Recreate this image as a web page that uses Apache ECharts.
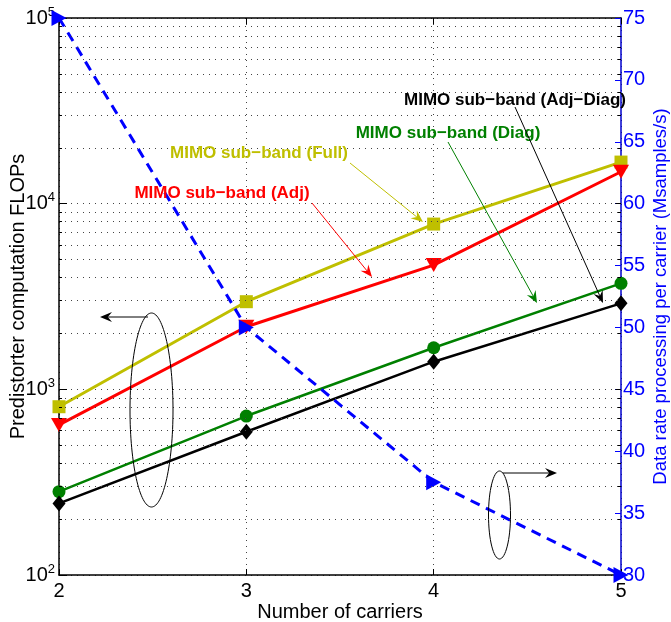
<!DOCTYPE html>
<html>
<head>
<meta charset="utf-8">
<script src="https://cdn.jsdelivr.net/npm/echarts@6/dist/echarts.min.js"></script>
<style>
  html, body { margin: 0; padding: 0; background: #fff; }
  #chart { width: 671px; height: 622px; }
</style>
</head>
<body>
<div id="chart"></div>
<script>
// data
const carriers = [2, 3, 4, 5];
const flopsFull = [806, 2965, 7765, 16750];
const flopsAdj = [643, 2173, 4670, 14860];
const flopsDiag = [281, 718, 1675, 3724];
const flopsAdjDiag = [243, 591, 1409, 2904];
const dataRate = [75, 50, 37.5, 30];

const FONT = 'Liberation Sans';
const chart = echarts.init(document.getElementById('chart'));

// minor log grid values 2..9 per decade
const minorGrid = [];
for (let d = 100; d < 100000; d *= 10) {
  for (let k = 2; k <= 9; k++) minorGrid.push(d * k);
}
// mirrored log ticks on the right edge + minor ticks on the left edge
const tickMarks = [];
minorGrid.forEach(v => {
  tickMarks.push([{ coord: [2, v] }, { coord: [2.016, v] }]);
  tickMarks.push([{ coord: [4.984, v] }, { coord: [5, v] }]);
});
[1000, 10000].forEach(v => tickMarks.push([{ coord: [4.97, v] }, { coord: [5, v] }]));

const pairs = (ys) => carriers.map((x, i) => [x, ys[i]]);

function arrow(x1, y1, x2, y2, color) {
  const a = Math.atan2(y2 - y1, x2 - x1);
  const L = 12, W = 5;
  const c = Math.cos(a), s = Math.sin(a);
  const bx = x2 - L * c, by = y2 - L * s;
  const nx = x2 - 0.65 * L * c, ny = y2 - 0.65 * L * s;
  return [
    { type: 'line', shape: { x1: x1, y1: y1, x2: nx, y2: ny }, style: { stroke: color, lineWidth: 1 }, z: 100 },
    { type: 'polygon', shape: { points: [[x2, y2], [bx - s * W, by + c * W], [nx, ny], [bx + s * W, by - c * W]] }, style: { fill: color }, z: 100 }
  ];
}

function label(text, x, y, color) {
  return { type: 'text', z: 100, style: { text: text, x: x, y: y, fill: color, fontFamily: FONT, fontSize: 17, fontWeight: 'bold', align: 'center', verticalAlign: 'middle' } };
}

const gridDots = { color: '#444', width: 1, type: [1, 5] };

chart.setOption({
  animation: false,
  textStyle: { fontFamily: FONT },
  grid: { left: 59, right: 50, top: 18, bottom: 47, containLabel: false, outerBoundsMode: 'none' },
  xAxis: [{
    type: 'value', min: 2, max: 5, interval: 1,
    name: 'Number of carriers', nameLocation: 'middle', nameGap: 27, nameMoveOverlap: false,
    nameTextStyle: { fontSize: 20, color: '#000' },
    axisLine: { lineStyle: { color: '#000', width: 1.5 } },
    axisTick: { inside: true, length: 6, lineStyle: { color: '#000' } },
    axisLabel: { fontSize: 20, color: '#000', margin: 6 },
    splitLine: { show: true, lineStyle: gridDots }
  }, {
    type: 'value', min: 2, max: 5, interval: 1, position: 'top',
    axisLine: { lineStyle: { color: '#000', width: 1.5 } },
    axisTick: { inside: true, length: 6, lineStyle: { color: '#000' } },
    axisLabel: { show: false },
    splitLine: { show: false }
  }],
  yAxis: [{
    type: 'log', logBase: 10, min: 100, max: 100000,
    name: 'Predistorter computation FLOPs', nameLocation: 'middle', nameGap: 31, nameRotate: 90, nameMoveOverlap: false,
    nameTextStyle: { fontSize: 20, color: '#000' },
    axisLine: { lineStyle: { color: '#000', width: 1.5 } },
    axisTick: { inside: true, length: 8, lineStyle: { color: '#000' } },
    axisLabel: {
      margin: 4,
      formatter: (v) => '{b|10}{s|' + Math.round(Math.log10(v)) + '}',
      rich: {
        b: { fontSize: 20, color: '#000', fontFamily: FONT },
        s: { fontSize: 13, color: '#000', fontFamily: FONT, padding: [0, 0, 12, 0] }
      }
    },
    splitLine: { show: true, lineStyle: gridDots }
  }, {
    type: 'value', min: 30, max: 75, interval: 5, position: 'right',
    name: 'Data rate processing per carrier (Msamples/s)', nameLocation: 'middle', nameGap: 30, nameRotate: 90, nameMoveOverlap: false,
    nameTextStyle: { fontSize: 18.5, color: '#0000ff' },
    axisLine: { show: true, lineStyle: { color: '#0000cc', width: 1.5 } },
    axisTick: { show: true, inside: true, length: 6, lineStyle: { color: '#0000ff' } },
    axisLabel: { fontSize: 20, color: '#0000ff', margin: 2 },
    splitLine: { show: false }
  }],
  series: [
    {
      type: 'line', name: 'grid', data: [], z: 1, silent: true,
      markLine: {
        silent: true, symbol: ['none', 'none'], label: { show: false },
        lineStyle: gridDots,
        data: minorGrid.map(v => ({ yAxis: v }))
      }
    },
    {
      type: 'line', name: 'ticks', data: [], z: 5, silent: true,
      markLine: {
        silent: true, symbol: ['none', 'none'], label: { show: false },
        lineStyle: { color: '#000', width: 1, type: 'solid' },
        data: tickMarks
      }
    },
    {
      type: 'line', name: 'MIMO sub-band (Full)', data: pairs(flopsFull), z: 3,
      symbol: 'rect', symbolSize: 13,
      lineStyle: { color: '#bfbf00', width: 3 }, itemStyle: { color: '#bfbf00' }
    },
    {
      type: 'line', name: 'MIMO sub-band (Adj)', data: pairs(flopsAdj), z: 3,
      symbol: 'triangle', symbolRotate: 180, symbolSize: [16, 14],
      lineStyle: { color: '#ff0000', width: 3 }, itemStyle: { color: '#ff0000' }
    },
    {
      type: 'line', name: 'MIMO sub-band (Diag)', data: pairs(flopsDiag), z: 3,
      symbol: 'circle', symbolSize: 13,
      lineStyle: { color: '#008000', width: 2.5 }, itemStyle: { color: '#008000' }
    },
    {
      type: 'line', name: 'MIMO sub-band (Adj-Diag)', data: pairs(flopsAdjDiag), z: 3,
      symbol: 'diamond', symbolSize: [13, 16],
      lineStyle: { color: '#000000', width: 2.5 }, itemStyle: { color: '#000000' }
    },
    {
      type: 'line', name: 'Data rate', yAxisIndex: 1, data: pairs(dataRate), z: 4,
      symbol: 'triangle', symbolRotate: -90, symbolSize: [16, 15],
      lineStyle: { color: '#0000ff', width: 3, type: [10, 7] }, itemStyle: { color: '#0000ff' }
    }
  ],
  graphic: [
    label('MIMO sub\u2212band (Full)', 259, 153, '#bfbf00'),
    label('MIMO sub\u2212band (Adj)', 222, 193, '#ff0000'),
    label('MIMO sub\u2212band (Diag)', 448, 133, '#008000'),
    label('MIMO sub\u2212band (Adj\u2212Diag)', 515, 100, '#000000'),
    ...arrow(350, 163, 423, 222, '#bfbf00'),
    ...arrow(312, 203, 372, 277, '#ff0000'),
    ...arrow(448, 142, 537, 303, '#008000'),
    ...arrow(515, 107, 603, 303, '#000000'),
    { type: 'ellipse', z: 100, shape: { cx: 151.5, cy: 410, rx: 21.5, ry: 97 }, style: { fill: 'none', stroke: '#000', lineWidth: 1 } },
    ...arrow(148, 317, 100, 317, '#000000'),
    { type: 'ellipse', z: 100, shape: { cx: 499.5, cy: 515, rx: 11, ry: 44 }, style: { fill: 'none', stroke: '#000', lineWidth: 1 } },
    ...arrow(503, 473, 557, 473, '#000000')
  ]
});
</script>
</body>
</html>
